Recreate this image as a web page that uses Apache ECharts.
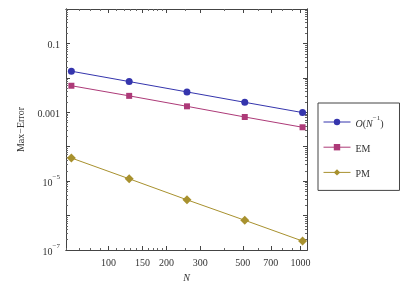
<!DOCTYPE html>
<html><head><meta charset="utf-8">
<script src="https://cdn.jsdelivr.net/npm/echarts@6/dist/echarts.min.js"></script>
<style>html,body{margin:0;padding:0;background:#fff}#c{width:406px;height:289px}</style>
</head><body><div id="c"></div>
<script>
const N = [64, 128, 256, 512, 1024];
const orderN = [0.0156, 0.0078, 0.0039, 0.00195, 0.00098];
const EM = [0.0059, 0.0030, 0.00149, 0.00073, 0.000367];
const PM = [4.7e-5, 1.17e-5, 2.87e-6, 7.3e-7, 1.82e-7];
const xTickLabels = [100, 150, 200, 300, 500, 700, 1000];
const xMinorTicks = [60, 70, 80, 90, 110, 120, 130, 140, 160, 170, 180, 190, 250, 400, 600, 800, 900];
const yTickLabels = [1e-7, 1e-5, 1e-3, 1e-1];
const yMajorTicks = [1e-7, 1e-6, 1e-5, 1e-4, 1e-3, 1e-2, 1e-1, 1];
const yMinorTicks = [];
for (let e = -7; e < 0; e++) for (let m = 2; m <= 9; m++) yMinorTicks.push(m * Math.pow(10, e));

const FONT = 'Liberation Serif';
const frame = { lineStyle: { color: '#444', width: 1 } };
const xBase = { type: 'log', logBase: 10, min: 60, max: 1080, splitLine: { show: false } };
const yBase = { type: 'log', logBase: 10, min: 1e-7, max: 1, splitLine: { show: false } };

function yFmt(v) {
  const e = Math.round(Math.log10(v));
  if (e === -1) return '{b|0.1}';
  if (e === -3) return '{b|0.001}';
  return '{b|10}{s|−' + (-e) + '}';
}

const chart = echarts.init(document.getElementById('c'), null, { renderer: 'canvas' });
chart.setOption({
  animation: false,
  backgroundColor: '#fff',
  grid: { left: 66, right: 99, top: 9, bottom: 39, containLabel: false },
  xAxis: [
    Object.assign({}, xBase, {
      position: 'bottom', axisLine: frame,
      name: 'N', nameLocation: 'middle', nameGap: 22,
      nameTextStyle: { fontFamily: FONT, fontStyle: 'italic', fontSize: 10, color: '#333' },
      axisTick: { inside: true, length: 4, lineStyle: { color: '#444' }, customValues: xTickLabels },
      axisLabel: { customValues: xTickLabels, formatter: v => String(Math.round(v)), fontFamily: FONT, fontSize: 10, color: '#333', margin: 8 }
    }),
    Object.assign({}, xBase, {
      position: 'bottom', axisLine: frame,
      axisTick: { inside: true, length: 2, lineStyle: { color: '#666' }, customValues: xMinorTicks },
      axisLabel: { show: false }
    }),
    Object.assign({}, xBase, {
      position: 'top', axisLine: frame,
      axisTick: { inside: true, length: 4, lineStyle: { color: '#444' }, customValues: xTickLabels },
      axisLabel: { show: false }
    }),
    Object.assign({}, xBase, {
      position: 'top', axisLine: frame,
      axisTick: { inside: true, length: 2, lineStyle: { color: '#666' }, customValues: xMinorTicks },
      axisLabel: { show: false }
    })
  ],
  yAxis: [
    Object.assign({}, yBase, {
      position: 'left', axisLine: frame,
      name: 'Max−Error', nameLocation: 'middle', nameGap: 33, nameRotate: 90,
      nameTextStyle: { fontFamily: FONT, fontSize: 10, color: '#333' },
      axisTick: { inside: true, length: 4, lineStyle: { color: '#444' }, customValues: yMajorTicks },
      axisLabel: {
        customValues: yTickLabels, formatter: yFmt, fontFamily: FONT, fontSize: 10, color: '#333', margin: 6,
        rich: {
          b: { fontSize: 10, fontFamily: FONT, color: '#333', lineHeight: 14, verticalAlign: 'bottom' },
          s: { fontSize: 7, fontFamily: FONT, color: '#333', lineHeight: 14, verticalAlign: 'top', padding: [0, 0, 6, 0] }
        }
      }
    }),
    Object.assign({}, yBase, {
      position: 'left', axisLine: frame,
      axisTick: { inside: true, length: 2, lineStyle: { color: '#666' }, customValues: yMinorTicks },
      axisLabel: { show: false }
    }),
    Object.assign({}, yBase, {
      position: 'right', axisLine: frame,
      axisTick: { inside: true, length: 4, lineStyle: { color: '#444' }, customValues: yMajorTicks },
      axisLabel: { show: false }
    }),
    Object.assign({}, yBase, {
      position: 'right', axisLine: frame,
      axisTick: { inside: true, length: 2, lineStyle: { color: '#666' }, customValues: yMinorTicks },
      axisLabel: { show: false }
    })
  ],
  legend: {
    orient: 'vertical', left: 318, top: 103,
    padding: [12, 16, 11, 5], itemGap: 15, itemWidth: 27, itemHeight: 8,
    borderColor: '#444', borderWidth: 1, backgroundColor: '#fff',
    lineStyle: { width: 1 },
    textStyle: {
      fontFamily: FONT, fontSize: 10, color: '#333',
      rich: {
        t: { fontFamily: FONT, fontSize: 10, color: '#333', lineHeight: 14, verticalAlign: 'bottom' },
        i: { fontFamily: FONT, fontStyle: 'italic', fontSize: 10, color: '#333', lineHeight: 14, verticalAlign: 'bottom' },
        s: { fontFamily: FONT, fontSize: 7, color: '#333', lineHeight: 14, verticalAlign: 'top', padding: [0, 0, 6, 0] }
      }
    },
    formatter: name => name === 'O' ? '{i|O}{t|(}{i|N}{s|−1}{t|)}' : '{t|' + name + '}',
    data: ['O', 'EM', 'PM']
  },
  series: [
    { name: 'O', type: 'line', data: N.map((n, i) => [n, orderN[i]]), symbol: 'circle', symbolSize: 7,
      itemStyle: { color: '#3535ad' }, lineStyle: { color: '#3535ad', width: 1 } },
    { name: 'EM', type: 'line', data: N.map((n, i) => [n, EM[i]]), symbol: 'rect', symbolSize: 6,
      itemStyle: { color: '#ad3a78' }, lineStyle: { color: '#ad3a78', width: 1 } },
    { name: 'PM', type: 'line', data: N.map((n, i) => [n, PM[i]]), symbol: 'diamond', symbolSize: 9,
      itemStyle: { color: '#a8912e' }, lineStyle: { color: '#a8912e', width: 1 } }
  ]
});
</script>
</body></html>
